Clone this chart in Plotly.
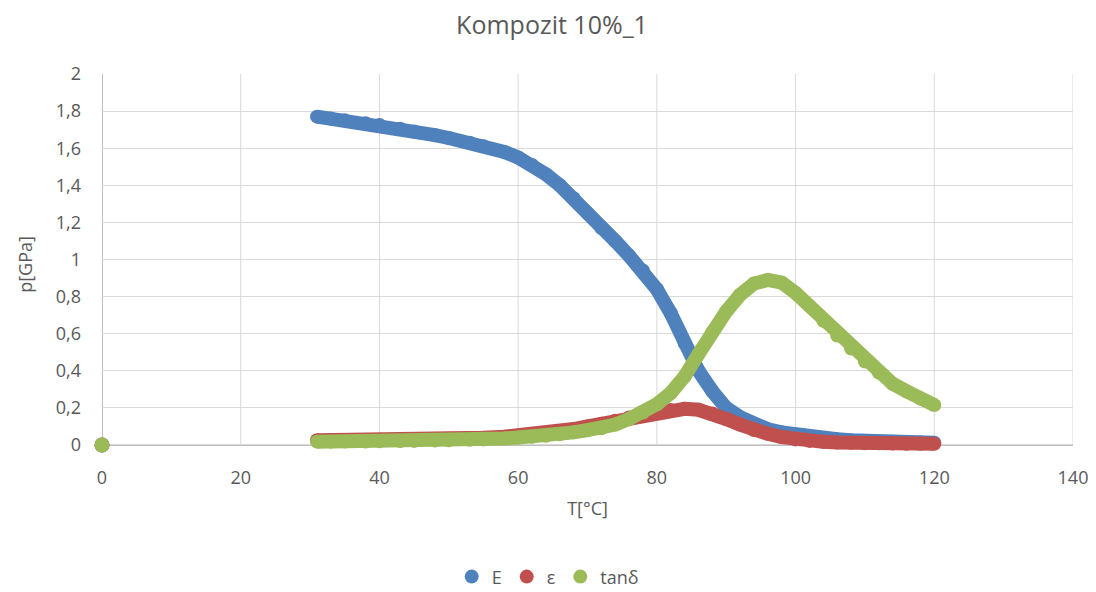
import plotly.graph_objects as go

T = [31, 33, 35, 38, 40, 43, 45, 48, 50, 53, 55, 58, 60, 62, 64, 66, 68, 70, 72, 74, 76, 78,
     80, 82, 84, 86, 88, 90, 92, 94, 96, 98, 100, 102, 104, 106, 108, 110, 112, 114, 116, 118, 120]

E = [1.77, 1.76, 1.75, 1.735, 1.725, 1.705, 1.69, 1.67, 1.655, 1.63, 1.61, 1.58, 1.55, 1.51,
     1.46, 1.40, 1.33, 1.25, 1.17, 1.10, 1.02, 0.94, 0.84, 0.71, 0.55, 0.40, 0.29, 0.20, 0.15,
     0.11, 0.085, 0.068, 0.055, 0.045, 0.037, 0.031, 0.026, 0.022, 0.019, 0.017, 0.015, 0.013, 0.012]

eps = [0.026, 0.026, 0.027, 0.027, 0.028, 0.029, 0.03, 0.032, 0.033, 0.036, 0.039, 0.045, 0.05,
       0.056, 0.064, 0.074, 0.086, 0.1, 0.115, 0.13, 0.148, 0.165, 0.178, 0.188, 0.195, 0.19,
       0.17, 0.14, 0.11, 0.08, 0.06, 0.043, 0.03, 0.022, 0.017, 0.014, 0.012, 0.01, 0.009,
       0.008, 0.007, 0.006, 0.006]

tan_d = [0.018, 0.018, 0.019, 0.019, 0.02, 0.021, 0.022, 0.024, 0.025, 0.028, 0.03, 0.035,
         0.04, 0.044, 0.05, 0.058, 0.068, 0.08, 0.09, 0.11, 0.14, 0.175, 0.22, 0.28, 0.37,
         0.49, 0.61, 0.72, 0.81, 0.87, 0.89, 0.875, 0.82, 0.75, 0.67, 0.59, 0.52, 0.45, 0.39,
         0.33, 0.29, 0.25, 0.215]

origin_T = [0]
origin_v = [0]

x_ticks = [0, 20, 40, 60, 80, 100, 120, 140]
y_min, y_max = 0, 2

names = ["E", "ε", "tanδ"]
colors = ["#4f81bd", "#c0504d", "#9bbb59"]
series = [E, eps, tan_d]

fig = go.Figure()
for name, col, ys in zip(names, colors, series):
    fig.add_trace(go.Scatter(x=T, y=ys, mode="lines+markers", showlegend=False,
                             line=dict(color=col, width=14), marker=dict(color=col, size=14),
                             cliponaxis=False))
    fig.add_trace(go.Scatter(x=origin_T, y=origin_v, mode="markers", showlegend=False,
                             marker=dict(color=col, size=15), cliponaxis=False))
for name, col in zip(names, colors):
    fig.add_trace(go.Scatter(x=[None], y=[None], mode="markers", name=name,
                             marker=dict(color=col, size=14)))

font_family = "Open Sans, Liberation Sans, sans-serif"
fig.update_layout(
    width=1088, height=584,
    margin=dict(l=94, r=23, t=66, b=137, autoexpand=False),
    paper_bgcolor="white", plot_bgcolor="white",
    separators=", ",
    font=dict(family=font_family, color="#595959", size=18),
    title=dict(text="Kompozit 10%_1", x=0.5, xanchor="center", y=0.971, yanchor="middle",
               font=dict(size=25, color="#595959", family=font_family)),
    legend=dict(orientation="h", x=0.459, xanchor="center", y=-0.320, yanchor="middle",
                font=dict(size=18, color="#595959"), itemwidth=30, tracegroupgap=0),
    xaxis=dict(range=[0, 140], tickvals=x_ticks, showgrid=False,
               zeroline=False, showline=False,
               ticks="", automargin=False, ticklabelstandoff=10,
               title=dict(text="T[°C]", standoff=14, font=dict(size=18)),
               tickfont=dict(size=18)),
    yaxis=dict(range=[-0.054, 2], dtick=0.2, tick0=0, showgrid=True, gridcolor="#d9d9d9",
               gridwidth=1, zeroline=False, showline=False, ticks="", automargin=False,
               ticklabelstandoff=20,
               title=dict(text="p[GPa]", standoff=18, font=dict(size=18)),
               tickfont=dict(size=18)),
)
for xv in x_ticks:
    fig.add_shape(type="line", xref="x", yref="y", x0=xv, x1=xv, y0=y_min, y1=y_max,
                  line=dict(color="#bfbfbf" if xv == 0 else "#d9d9d9", width=2 if xv == 0 else 1),
                  layer="below")
fig.add_shape(type="line", xref="x", yref="y", x0=0, x1=140, y0=0, y1=0,
              line=dict(color="#bfbfbf", width=2), layer="below")

fig.write_html("out.html")
